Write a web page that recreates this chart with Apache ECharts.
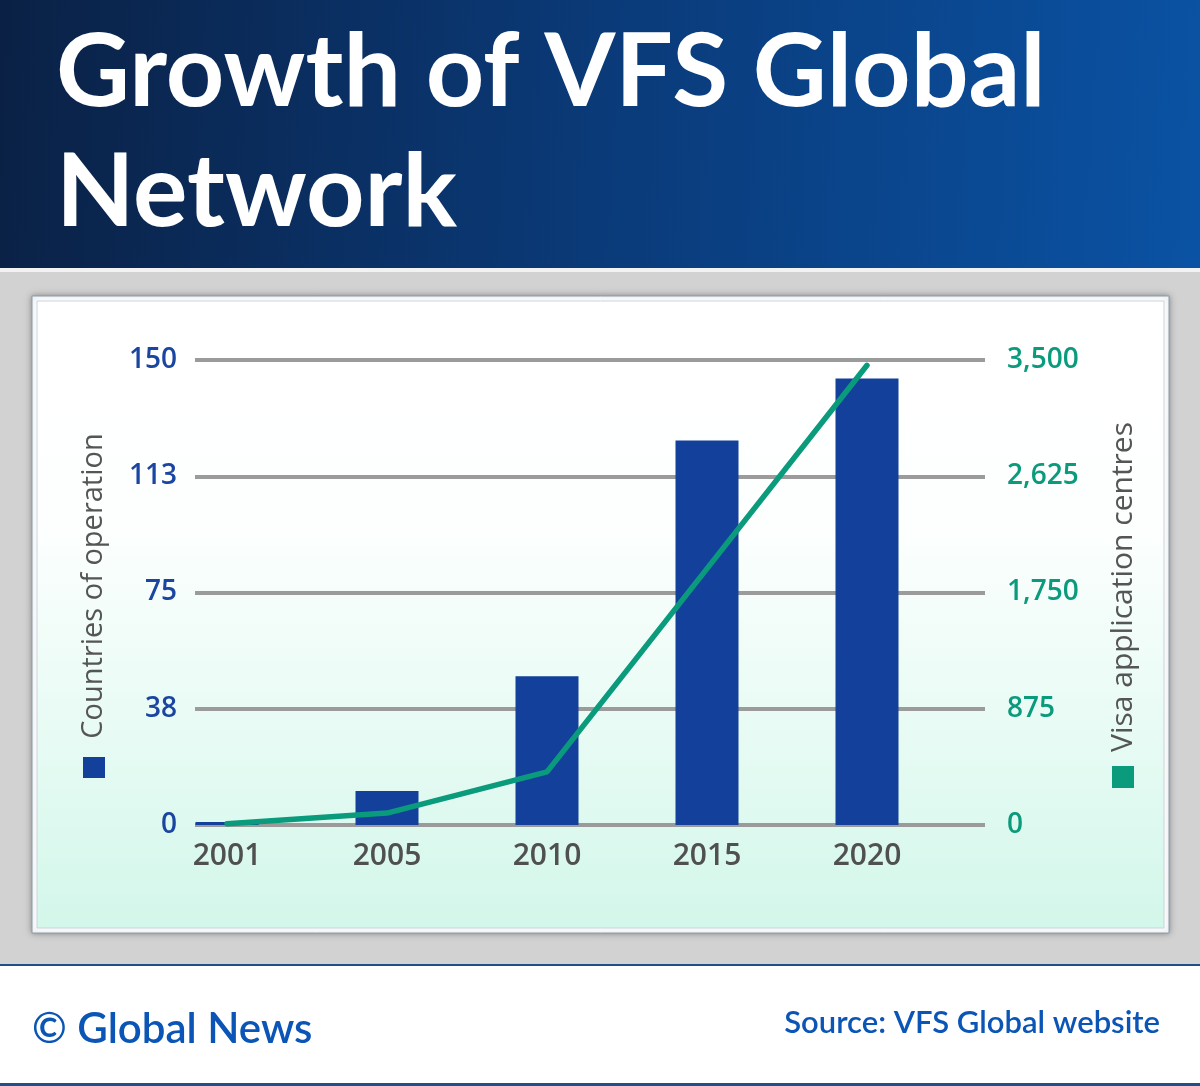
<!DOCTYPE html>
<html>
<head>
<meta charset="utf-8">
<script src="https://cdn.jsdelivr.net/npm/echarts@6/dist/echarts.min.js"></script>
<style>
html,body{margin:0;padding:0;background:#fff;}
#c{width:1200px;height:1086px;}
</style>
</head>
<body>
<div id="c"></div>
<script>
var years = ['2001', '2005', '2010', '2015', '2020'];
var countries = [1, 11, 48, 124, 144];
var centres = [10, 90, 400, 1930, 3460];
var leftTicks = [0, 150, 37.5];
var rightTicks = [0, 3500, 875];
var titleLines = ['Growth of VFS Global', 'Network'];
var leftName = 'Countries of operation';
var rightName = 'Visa application centres';
var creditText = '\u00A9 Global News';
var sourceText = 'Source: VFS Global website';

var BLUE = '#12409a';
var GREEN = '#0a9a7c';
var FONT = '"Open Sans", Lato, sans-serif';

var chart = echarts.init(document.getElementById('c'), null, {renderer: 'canvas'});

var option = {
  animation: false,
  backgroundColor: '#d2d2d2',
  graphic: [
    // header
    {type: 'rect', z: -10, shape: {x: 0, y: 0, width: 1200, height: 268},
      style: {fill: new echarts.graphic.LinearGradient(0, 0, 1, 0.3, [
        {offset: 0, color: '#0a2145'}, {offset: 0.5, color: '#0a3a78'}, {offset: 1, color: '#0a52a3'}])}},
    {type: 'rect', z: -10, shape: {x: 0, y: 268, width: 1200, height: 4}, style: {fill: '#f2f2f2'}},
    // panel
    {type: 'rect', z: -9, shape: {x: 32, y: 296, width: 1137, height: 637},
      style: {fill: '#ffffff', stroke: '#8a9aa8', lineWidth: 1, shadowBlur: 6, shadowColor: 'rgba(0,0,0,0.35)'}},
    {type: 'rect', z: -8, shape: {x: 37, y: 301, width: 1127, height: 627},
      style: {fill: new echarts.graphic.LinearGradient(0, 0, 0, 1, [
        {offset: 0, color: '#ffffff'}, {offset: 0.35, color: '#fdfffe'}, {offset: 1, color: '#d3f7ea'}]),
        stroke: '#c8d4da', lineWidth: 1}},
    // footer
    {type: 'rect', z: -10, shape: {x: 0, y: 964, width: 1200, height: 122}, style: {fill: '#ffffff'}},
    {type: 'rect', z: -9, shape: {x: 0, y: 964, width: 1200, height: 2}, style: {fill: '#1f4f8a'}},
    {type: 'rect', z: -9, shape: {x: 0, y: 1083, width: 1200, height: 3}, style: {fill: '#1f4f8a'}},
    // title
    {type: 'text', left: 56, top: 22, style: {text: titleLines[0], fill: '#ffffff',
      font: '700 102px Lato, "Open Sans", sans-serif'}},
    {type: 'text', left: 56, top: 142, style: {text: titleLines[1], fill: '#ffffff',
      font: '700 102px Lato, "Open Sans", sans-serif'}},
    // axis names
    {type: 'text', x: 94, y: 586, rotation: Math.PI / 2,
      style: {text: leftName, fill: '#555555', font: '500 29px ' + FONT, align: 'center', verticalAlign: 'middle'}},
    {type: 'rect', shape: {x: 83, y: 757, width: 22, height: 21}, style: {fill: BLUE}},
    {type: 'text', x: 1123, y: 587, rotation: Math.PI / 2,
      style: {text: rightName, fill: '#555555', font: '500 30px ' + FONT, align: 'center', verticalAlign: 'middle'}},
    {type: 'rect', shape: {x: 1112, y: 766, width: 22, height: 22}, style: {fill: GREEN}},
    // footer texts
    {type: 'text', x: 32, y: 1029, style: {text: creditText, fill: '#0a55b5',
      font: '600 42px Lato, "Open Sans", sans-serif', verticalAlign: 'middle'}},
    {type: 'text', x: 1160, y: 1023, style: {text: sourceText, fill: '#0a55b5',
      font: '600 31px Lato, "Open Sans", sans-serif', align: 'right', verticalAlign: 'middle'}}
  ],
  grid: [
    {left: 195, top: 360, width: 790, height: 465},
    {left: 147, top: 360, width: 800, height: 465}
  ],
  xAxis: [
    {type: 'category', gridIndex: 0, data: years, show: false},
    {type: 'category', gridIndex: 1, data: years,
      axisLine: {show: false}, axisTick: {show: false},
      axisLabel: {color: '#505050', fontSize: 30, fontWeight: 600, fontFamily: FONT, margin: 16}}
  ],
  yAxis: [
    {type: 'value', gridIndex: 0, position: 'left', min: leftTicks[0], max: leftTicks[1], interval: leftTicks[2],
      axisLine: {show: false}, axisTick: {show: false},
      axisLabel: {color: '#1a45a0', fontSize: 28, fontWeight: 600, fontFamily: FONT, margin: 18,
        formatter: function (v) { return String(Math.round(v)); }},
      splitLine: {show: true, lineStyle: {color: '#9b9b9b', width: 4}}},
    {type: 'value', gridIndex: 0, position: 'right', min: rightTicks[0], max: rightTicks[1], interval: rightTicks[2],
      axisLine: {show: false}, axisTick: {show: false},
      axisLabel: {color: GREEN, fontSize: 28, fontWeight: 600, fontFamily: FONT, margin: 22,
        formatter: function (v) { return v.toLocaleString('en-US'); }},
      splitLine: {show: false}},
    {type: 'value', gridIndex: 1, min: leftTicks[0], max: leftTicks[1], show: false, splitLine: {show: false}},
    {type: 'value', gridIndex: 1, min: rightTicks[0], max: rightTicks[1], show: false, splitLine: {show: false}}
  ],
  series: [
    {type: 'bar', xAxisIndex: 1, yAxisIndex: 2, data: countries, barWidth: 63,
      itemStyle: {color: BLUE}, z: 3},
    {type: 'line', xAxisIndex: 1, yAxisIndex: 3, data: centres, showSymbol: false, symbol: 'none',
      lineStyle: {color: GREEN, width: 5.5, cap: 'round', join: 'round'}, z: 4}
  ]
};
chart.setOption(option);
</script>
</body>
</html>
